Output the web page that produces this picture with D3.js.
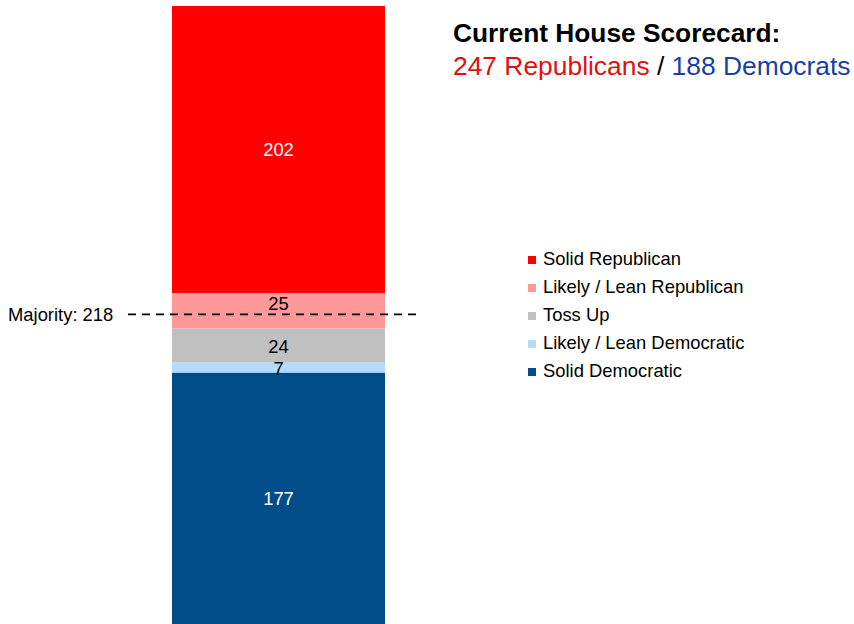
<!DOCTYPE html>
<html>
<head>
<meta charset="utf-8">
<script src="https://cdn.jsdelivr.net/npm/d3@7"></script>
<style>
  html, body { margin: 0; padding: 0; background: #fff; }
  svg { display: block; font-family: "Liberation Sans", Arial, sans-serif; }
</style>
</head>
<body>
<svg id="chart" width="854" height="624"></svg>
<script>
// Seat ratings, stacked from the top of the bar down
const categories = ["Solid Republican", "Likely / Lean Republican", "Toss Up", "Likely / Lean Democratic", "Solid Democratic"];
const seats = [202, 25, 24, 7, 177];
const palette = ["#ff0000", "#ff9999", "#c0c0c0", "#b3dbfb", "#004d89"];
const labelColors = ["#ffffff", "#000000", "#000000", "#000000", "#ffffff"];
const totalSeats = 435;
const majority = 218;
const currentRep = 247;
const currentDem = 188;

const svg = d3.select("#chart");

const x = d3.scaleBand().domain(["House"]).range([172, 385]).padding(0);
const y = d3.scaleLinear().domain([0, totalSeats]).range([624, 6]);

// Cumulative stack: Democratic seats at the bottom, Republican at the top
const rows = categories.map((c, i) => ({ cat: c, value: seats[i], color: palette[i], label: labelColors[i] }));
let acc = 0;
const stacked = rows.slice().reverse().map(d => {
  const s = { ...d, y0: acc, y1: acc + d.value };
  acc += d.value;
  return s;
});

svg.append("g").selectAll("rect")
  .data(stacked)
  .join("rect")
  .attr("x", x("House"))
  .attr("width", x.bandwidth())
  .attr("y", d => y(d.y1))
  .attr("height", d => y(d.y0) - y(d.y1))
  .attr("fill", d => d.color);

const majY = y(majority);

svg.append("g").selectAll("text")
  .data(stacked)
  .join("text")
  .attr("x", x("House") + x.bandwidth() / 2)
  .attr("y", d => {
    let mid = (y(d.y0) + y(d.y1)) / 2;
    // keep the label clear of the majority line
    if (Math.abs(mid - majY) < 10) mid = majY - 11;
    return mid + 7;
  })
  .attr("text-anchor", "middle")
  .attr("font-size", 18.4)
  .attr("fill", d => d.label)
  .text(d => d.value);

// Majority threshold
svg.append("line")
  .attr("x1", 128).attr("x2", 418)
  .attr("y1", majY).attr("y2", majY)
  .attr("stroke", "#000")
  .attr("stroke-width", 1.8)
  .attr("stroke-dasharray", "8,6");

svg.append("text")
  .attr("x", 8)
  .attr("y", majY + 7)
  .attr("font-size", 18.4)
  .attr("fill", "#000")
  .text(`Majority: ${majority}`);

// Title
svg.append("text")
  .attr("x", 453).attr("y", 42)
  .attr("font-size", 26.3)
  .attr("font-weight", "bold")
  .attr("fill", "#000")
  .text("Current House Scorecard:");

const sub = svg.append("text")
  .attr("x", 453).attr("y", 75)
  .attr("font-size", 26.4);
sub.append("tspan").attr("fill", "#e01010").text(`${currentRep} Republicans`);
sub.append("tspan").attr("fill", "#000").text(" / ");
sub.append("tspan").attr("fill", "#1a3fa0").text(`${currentDem} Democrats`);

// Legend
const legend = svg.append("g").selectAll("g")
  .data(rows)
  .join("g")
  .attr("transform", (d, i) => `translate(528, ${265 + i * 28})`);

legend.append("rect")
  .attr("x", 0).attr("y", -9)
  .attr("width", 8).attr("height", 8)
  .attr("fill", d => d.color);

legend.append("text")
  .attr("x", 15).attr("y", 0)
  .attr("font-size", 18.4)
  .attr("fill", "#000")
  .text(d => d.cat);
</script>
</body>
</html>
